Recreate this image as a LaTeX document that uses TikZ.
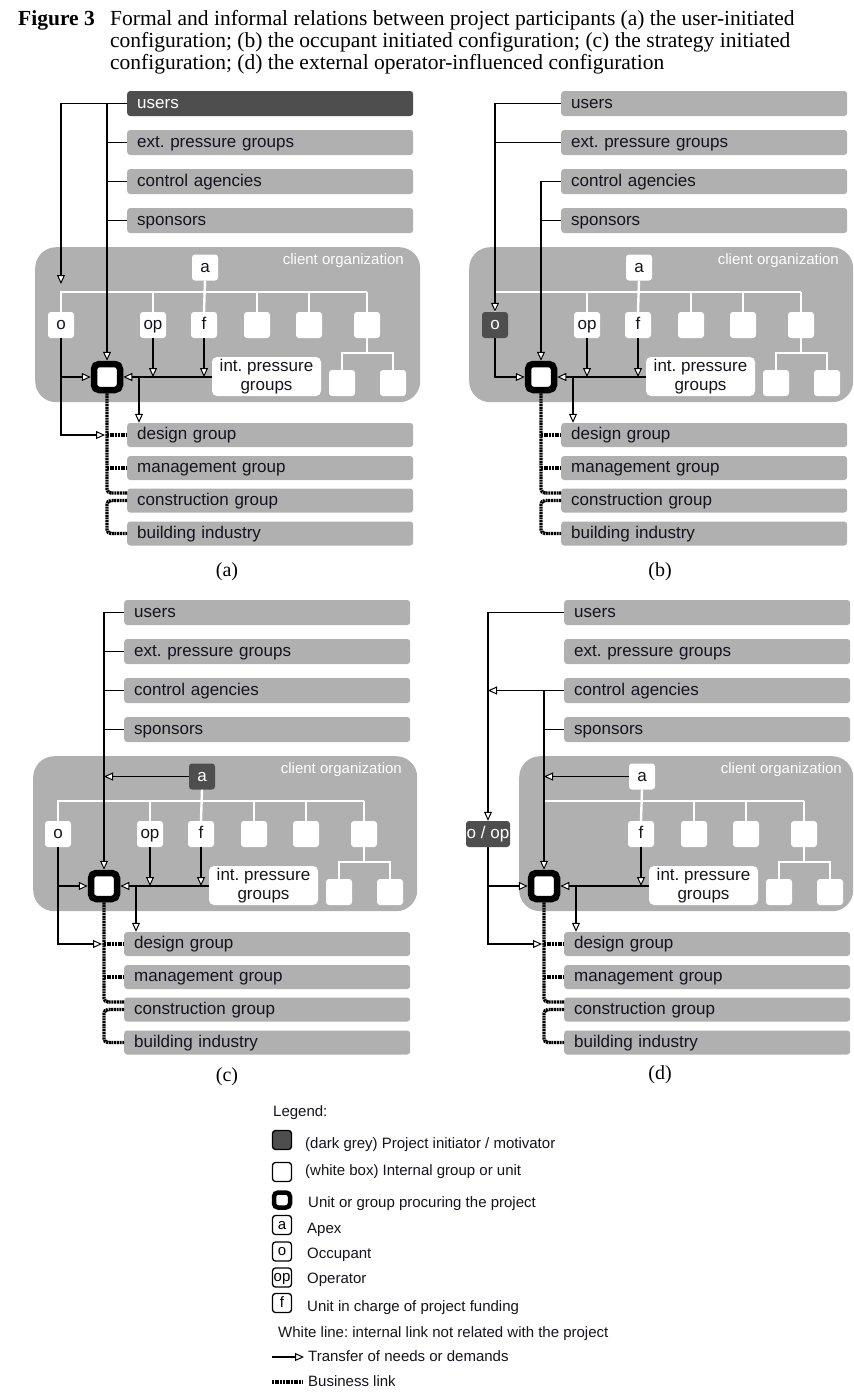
\documentclass[tikz,border=0pt]{standalone}
\usepackage{fontspec}
\setmainfont{Liberation Sans}
\newfontfamily\capserif{Liberation Serif}
\usetikzlibrary{arrows.meta}
\frenchspacing

\definecolor{bargrey}{RGB}{176,176,176}
\definecolor{darkgrey}{RGB}{78,78,78}
\definecolor{textdark}{RGB}{20,20,30}

\newcommand\barfont{\fontsize{17}{19}\selectfont}
\newcommand\legfont{\fontsize{15}{17}\selectfont}
\newcommand\titlefont{\fontsize{21.5}{22}\capserif}
\newcommand\captfont{\fontsize{20}{22}\capserif}

% four outside parties above the organization (#1: extra style for "users")
\newcommand\upperbars[1]{%
  \node[barbox,#1] (users) at (127,103.5) {users};
  \node[barbox] (ext) at (127,142.5) {ext. pressure groups};
  \node[barbox] (ctrl) at (127,181.5) {control agencies};
  \node[barbox] (spons) at (127,220.5) {sponsors};}

% client organization frame: left x, width, label right x
\newcommand\orgframe[3]{%
  \node[orgbg, minimum width=#2pt, minimum height=155pt, anchor=north west] (org) at (#1,247) {};
  \node[orglabel, anchor=east] (orgname) at (#3,261) {client organization};}

% units inside the organization (#1: extra style for the apex)
\newcommand\orgunits[1]{%
  \node[unitbox,#1] (apex) at (205,267.5) {a};
  \node[unitbox] (f) at (204,325) {f};
  \node[unitbox] (u4) at (257,325) {};
  \node[unitbox] (u5) at (309,325) {};
  \node[unitbox] (u6) at (367,325) {};
  \node[unitbox] (s1) at (342,383) {};
  \node[unitbox] (s2) at (393,383) {};
  \node[ipgbox] (ipg) at (266.5,376.5) {int. pressure\\groups};
  \node[procure] (proc) at (107,377) {};
  \coordinate (wl) at (0,292);
  \coordinate (wl2) at (0,353);
  \draw[wline] (apex.south) -- (f.north);
  \foreach \n in {u4,u5} \draw[wline] (\n.north) -- (\n.north|-wl);
  \draw[wline] (u6.north|-wl) -- (u6.north);
  \draw[wline] (u6.south) -- (u6.south|-wl2);
  \draw[wline] (s1.north) -- (s1.north|-wl2) -- (s2.north|-wl2) -- (s2.north);
  \draw[arr] (f.south) -- (f.south|-proc.east);
  \draw[arr] (ipg.west|-proc.east) -- (proc.east);}

% contractors below the organization, with the business links
\newcommand\lowerbars{%
  \node[barbox,lowbar] (design) at (127,435) {design group};
  \node[barbox,lowbar] (mgmt) at (127,468) {management group};
  \node[barbox,lowbar] (constr) at (127,500.5) {construction group};
  \node[barbox,lowbar] (build) at (127,533.5) {building industry};
  \coordinate (b1) at (127,493);
  \coordinate (b2) at (127,500.5);
  \coordinate (dtip) at (105,435);
  \coordinate (dn) at (139,377);
  \draw[biz] (proc.south) |- (b1);
  \draw[biz] (proc.south|-design.west) -- (design.west);
  \draw[biz] (proc.south|-mgmt.west) -- (mgmt.west);
  \draw[biz] (b2) -- (b2-|proc.south) |- (build.west);
  \draw[arr] (dn) -- (dn|-design.north);}

\begin{document}
\begin{tikzpicture}[x=1pt,y=-1pt,
  barbox/.style={anchor=west, fill=bargrey, rounded corners=3pt, minimum height=25pt,
    text width=266pt, inner xsep=10pt, inner ysep=0pt, align=left,
    text height=12.5pt, text depth=3.5pt, font=\barfont, text=textdark},
  lowbar/.style={minimum height=24pt},
  darkbox/.style={fill=darkgrey, text=white},
  orgbg/.style={fill=bargrey, rounded corners=21pt, inner sep=0pt},
  orglabel/.style={text=white, font=\fontsize{15}{17}\selectfont, inner sep=0pt},
  unitbox/.style={fill=white, rounded corners=3pt, minimum width=26pt, minimum height=26pt,
    inner sep=0pt, text height=12pt, text depth=3pt, font=\barfont, text=textdark},
  ipgbox/.style={fill=white, rounded corners=5pt, minimum width=109pt, minimum height=39pt,
    inner sep=0pt, align=center, font=\barfont, text=textdark},
  procure/.style={draw=black, line width=6.5pt, fill=white, rounded corners=5pt,
    minimum size=26pt, inner sep=0pt},
  wline/.style={white, line width=2.4pt},
  blk/.style={black, line width=1.8pt},
  arr/.style={blk, -{Triangle[length=9pt, width=8pt, fill=white, line width=1pt]}},
  biz/.style={black, line width=3.4pt, dash pattern=on 2pt off 0.7pt, rounded corners=4pt},
  capt/.style={font=\captfont, inner sep=0pt},
  legbox/.style={draw=black, line width=1.3pt, fill=white, rounded corners=3pt,
    minimum width=19pt, minimum height=19pt, inner sep=0pt, text height=10.5pt,
    text depth=2.5pt, font=\legfont, text=black},
  legtext/.style={anchor=west, font=\legfont, inner sep=0pt, text height=11pt,
    text depth=3pt, text=textdark},
  ttl/.style={anchor=base west, inner sep=0pt, font=\titlefont}]

\useasboundingbox (0,0) rectangle (854,1395);
\fill[white] (0,0) rectangle (854,1395);

% ---- caption of the figure ----
\node[ttl, font=\titlefont\bfseries] (fig) at (18,25) {Figure 3};
\node[ttl] (t1) at (110,25) {Formal and informal relations between project participants (a) the user-initiated};
\node[ttl] (t2) at (110,47) {configuration; (b) the occupant initiated configuration; (c) the strategy initiated};
\node[ttl] (t3) at (110,69) {configuration; (d) the external operator-influenced configuration};

% ---- (a) user-initiated ----
\begin{scope}[name prefix=a-]
  \upperbars{darkbox}
  \orgframe{35}{385}{404}
  \orgunits{}
  \node[unitbox] (o) at (61,325) {o};
  \node[unitbox] (op) at (153,325) {op};
  \draw[wline] (o.north) -- (o.north|-wl) -- (u6.north|-wl);
  \draw[wline] (op.north) -- (op.north|-wl);
  \lowerbars
  \coordinate (utip) at (61,284);
  \draw[arr] (users.west) -| (utip);
  \draw[arr] (proc.north|-users.west) -- (proc.north);
  \foreach \n in {ext,ctrl,spons} \draw[blk] (proc.north|-\n.west) -- (\n.west);
  \draw[arr] (o.south) |- (proc.west);
  \draw[arr] (o.south) |- (dtip);
  \draw[arr] (op.south) -- (op.south|-proc.east);
  \node[capt] (cap) at (227,572) {(a)};
\end{scope}

% ---- (b) occupant initiated ----
\begin{scope}[shift={(434,0)}, name prefix=b-]
  \upperbars{}
  \orgframe{35}{384}{405}
  \orgunits{}
  \node[unitbox,darkbox] (o) at (61,325) {o};
  \node[unitbox] (op) at (153,325) {op};
  \draw[wline] (o.north) -- (o.north|-wl) -- (u6.north|-wl);
  \draw[wline] (op.north) -- (op.north|-wl);
  \lowerbars
  \draw[arr] (users.west) -| (o.north);
  \draw[blk] (o.north|-ext.west) -- (ext.west);
  \draw[arr] (ctrl.west) -| (proc.north);
  \draw[blk] (proc.north|-spons.west) -- (spons.west);
  \draw[arr] (o.south) |- (proc.west);
  \draw[arr] (op.south) -- (op.south|-proc.east);
  \node[capt] (cap) at (226,572) {(b)};
\end{scope}

% ---- (c) strategy initiated ----
\begin{scope}[shift={(-3,509)}, name prefix=c-]
  \upperbars{}
  \orgframe{36}{384}{405}
  \orgunits{darkbox}
  \node[unitbox] (o) at (61,325) {o};
  \node[unitbox] (op) at (153,325) {op};
  \draw[wline] (o.north) -- (o.north|-wl) -- (u6.north|-wl);
  \draw[wline] (op.north) -- (op.north|-wl);
  \lowerbars
  \draw[arr] (users.west) -| (proc.north);
  \foreach \n in {ext,ctrl,spons} \draw[blk] (proc.north|-\n.west) -- (\n.west);
  \draw[arr] (apex.west) -- (apex.west-|proc.north);
  \draw[arr] (o.south) |- (proc.west);
  \draw[arr] (o.south) |- (dtip);
  \draw[arr] (op.south) -- (op.south|-proc.east);
  \node[capt] (cap) at (230,568) {(c)};
\end{scope}

% ---- (d) external operator-influenced ----
\begin{scope}[shift={(437,509)}, name prefix=d-]
  \upperbars{}
  \orgframe{82}{334}{405}
  \orgunits{}
  \node[unitbox,darkbox,minimum width=44pt] (oop) at (51,325) {o / op};
  \draw[wline] (proc.north|-wl) -- (u6.north|-wl);
  \lowerbars
  \draw[arr] (users.west) -| (oop.north);
  \draw[arr] (ctrl.west) -- (ctrl.west-|oop.north);
  \draw[arr] (proc.north|-ctrl.west) -- (proc.north);
  \draw[blk] (proc.north|-spons.west) -- (spons.west);
  \draw[arr] (apex.west) -- (apex.west-|proc.north);
  \draw[arr] (oop.south) |- (proc.west);
  \draw[arr] (oop.south) |- (dtip);
  \node[capt] (cap) at (223,566) {(d)};
\end{scope}

% ---- legend ----
\node[legtext] (lg) at (273,1112) {Legend:};
\node[legbox, fill=darkgrey] (k1) at (282,1140) {};
\node[legtext] (l1) at (305,1144) {(dark grey) Project initiator / motivator};
\node[legbox] (k2) at (282,1172) {};
\node[legtext] (l2) at (305,1171) {(white box) Internal group or unit};
\node[legbox, line width=4.5pt, minimum width=16pt, minimum height=15pt, rounded corners=4pt] (k3) at (282,1200) {};
\node[legtext] (l3) at (308,1203) {Unit or group procuring the project};
\node[legbox] (k4) at (282,1225) {a};
\node[legtext] (l4) at (307,1229) {Apex};
\node[legbox] (k5) at (282,1251.5) {o};
\node[legtext] (l5) at (307,1254) {Occupant};
\node[legbox] (k6) at (282,1277.5) {op};
\node[legtext] (l6) at (307,1279) {Operator};
\node[legbox] (k7) at (282,1303) {f};
\node[legtext] (l7) at (307,1307) {Unit in charge of project funding};
\node[legtext] (l8) at (278,1333) {White line: internal link not related with the project};
\coordinate (ar1) at (272,1357);
\coordinate (ar2) at (304,1357);
\draw[arr] (ar1) -- (ar2);
\node[legtext] (l9) at (308,1357) {Transfer of needs or demands};
\coordinate (bz1) at (272,1382);
\coordinate (bz2) at (303,1382);
\draw[biz] (bz1) -- (bz2);
\node[legtext] (l10) at (308,1382) {Business link};
\end{tikzpicture}
\end{document}
